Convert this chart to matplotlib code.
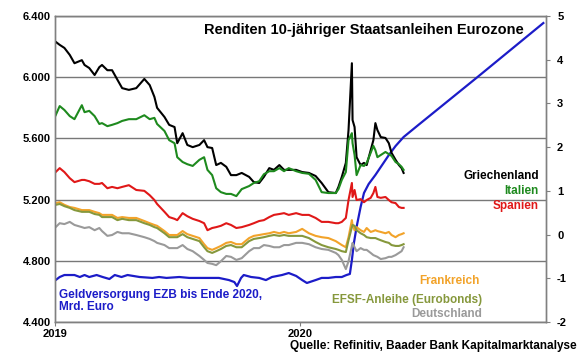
import matplotlib
matplotlib.use("Agg")
import matplotlib.pyplot as plt
import pandas as pd

plt.rcParams['font.family'] = ['Liberation Sans', 'DejaVu Sans']
plt.rcParams['font.weight'] = 'bold'

# Rendite-Daten (%), rechte Achse
dates = ["2019-01-02", "2019-01-08", "2019-01-15", "2019-01-23", "2019-01-30", "2019-02-10", "2019-02-14", "2019-02-21", "2019-03-01", "2019-03-08",
         "2019-03-12", "2019-03-20", "2019-03-27", "2019-04-04", "2019-04-11", "2019-04-21", "2019-05-02", "2019-05-14", "2019-05-22", "2019-05-29",
         "2019-06-02", "2019-06-13", "2019-06-20", "2019-06-28", "2019-07-02", "2019-07-10", "2019-07-17", "2019-07-25", "2019-08-04", "2019-08-11",
         "2019-08-16", "2019-08-23", "2019-08-29", "2019-09-05", "2019-09-13", "2019-09-20", "2019-09-28", "2019-10-06", "2019-10-17", "2019-10-24",
         "2019-11-01", "2019-11-08", "2019-11-16", "2019-11-23", "2019-12-01", "2019-12-08", "2019-12-15", "2019-12-26", "2020-01-04", "2020-01-14",
         "2020-01-24", "2020-02-02", "2020-02-12", "2020-02-23", "2020-02-27", "2020-03-03", "2020-03-09", "2020-03-13", "2020-03-18", "2020-03-19",
         "2020-03-22", "2020-03-25", "2020-03-31", "2020-04-05", "2020-04-09", "2020-04-15", "2020-04-19", "2020-04-22", "2020-04-25", "2020-04-30",
         "2020-05-07", "2020-05-12", "2020-05-16", "2020-05-22", "2020-05-27", "2020-05-31", "2020-06-03"]

griechenland = [4.41, 4.34, 4.27, 4.11, 3.92, 3.99, 3.88, 3.81, 3.65, 3.83,
                3.88, 3.76, 3.76, 3.54, 3.35, 3.31, 3.35, 3.56, 3.42, 3.15,
                2.90, 2.69, 2.51, 2.46, 2.09, 2.32, 2.05, 2.00, 2.05, 2.16,
                2.00, 1.98, 1.59, 1.64, 1.55, 1.36, 1.36, 1.41, 1.32, 1.20,
                1.18, 1.32, 1.52, 1.48, 1.59, 1.48, 1.48, 1.48, 1.43, 1.41,
                1.34, 1.18, 0.97, 0.95, 1.09, 1.32, 1.64, 2.39, 3.92, 2.62,
                2.46, 1.77, 1.59, 1.64, 1.59, 1.93, 2.16, 2.55, 2.39, 2.23,
                2.21, 2.09, 1.87, 1.71, 1.59, 1.52, 1.41]
italien = [2.73, 2.94, 2.85, 2.71, 2.64, 2.96, 2.80, 2.83, 2.71, 2.53,
           2.55, 2.48, 2.51, 2.55, 2.60, 2.64, 2.64, 2.73, 2.64, 2.67,
           2.53, 2.37, 2.16, 2.09, 1.77, 1.66, 1.61, 1.57, 1.71, 1.77,
           1.48, 1.36, 1.06, 0.97, 0.93, 0.93, 0.88, 1.04, 1.11, 1.18,
           1.22, 1.38, 1.45, 1.45, 1.52, 1.45, 1.52, 1.45, 1.41, 1.39,
           1.25, 0.97, 0.95, 0.95, 1.04, 1.25, 1.43, 2.16, 2.32, 2.09,
           1.82, 1.36, 1.59, 1.57, 1.64, 1.87, 2.03, 1.93, 1.77, 1.82,
           1.89, 1.84, 1.80, 1.66, 1.61, 1.55, 1.48]
spanien = [1.43, 1.52, 1.43, 1.29, 1.20, 1.25, 1.25, 1.22, 1.16, 1.16,
           1.18, 1.06, 1.09, 1.06, 1.09, 1.13, 1.02, 1.00, 0.90, 0.79,
           0.70, 0.52, 0.40, 0.36, 0.33, 0.49, 0.42, 0.36, 0.31, 0.26,
           0.10, 0.15, 0.17, 0.20, 0.26, 0.22, 0.15, 0.17, 0.22, 0.26,
           0.31, 0.33, 0.40, 0.45, 0.47, 0.49, 0.45, 0.49, 0.45, 0.45,
           0.38, 0.29, 0.29, 0.26, 0.26, 0.29, 0.38, 0.79, 1.18, 0.86,
           1.02, 0.79, 0.81, 0.74, 0.79, 0.84, 0.95, 1.09, 0.86, 0.84,
           0.86, 0.79, 0.74, 0.72, 0.63, 0.61, 0.61]
frankreich = [0.72, 0.74, 0.68, 0.63, 0.61, 0.56, 0.56, 0.56, 0.52, 0.49,
              0.45, 0.45, 0.45, 0.38, 0.40, 0.38, 0.38, 0.31, 0.26, 0.22,
              0.20, 0.08, -0.01, -0.01, -0.01, 0.08, 0.01, -0.03, -0.08, -0.22,
              -0.31, -0.35, -0.31, -0.26, -0.19, -0.17, -0.22, -0.22, -0.08, -0.03,
              -0.01, 0.01, 0.03, 0.06, 0.03, 0.06, 0.03, 0.06, 0.13, 0.03,
              -0.03, -0.06, -0.08, -0.15, -0.19, -0.24, -0.29, -0.06, 0.33, 0.22,
              0.10, 0.17, 0.10, 0.06, 0.15, 0.06, 0.08, 0.10, 0.08, 0.06,
              0.03, 0.06, -0.01, -0.06, -0.01, 0.01, 0.03]
efsf = [0.68, 0.70, 0.65, 0.61, 0.56, 0.52, 0.52, 0.52, 0.47, 0.45,
        0.40, 0.40, 0.40, 0.33, 0.36, 0.33, 0.33, 0.26, 0.22, 0.17,
        0.15, 0.03, -0.06, -0.06, -0.06, 0.01, -0.06, -0.10, -0.15, -0.29,
        -0.38, -0.42, -0.38, -0.33, -0.26, -0.24, -0.29, -0.29, -0.15, -0.10,
        -0.08, -0.06, -0.03, -0.01, -0.03, -0.01, -0.03, -0.03, -0.03, -0.08,
        -0.17, -0.24, -0.29, -0.33, -0.35, -0.38, -0.40, -0.13, 0.17, 0.22,
        0.20, 0.10, 0.03, -0.01, -0.06, -0.08, -0.08, -0.08, -0.10, -0.13,
        -0.17, -0.19, -0.24, -0.26, -0.26, -0.24, -0.22]
deutschland = [0.17, 0.26, 0.24, 0.29, 0.22, 0.17, 0.15, 0.17, 0.10, 0.15,
               0.08, -0.03, -0.01, 0.06, 0.03, 0.03, -0.01, -0.06, -0.10, -0.15,
               -0.19, -0.24, -0.31, -0.31, -0.31, -0.24, -0.33, -0.38, -0.49, -0.58,
               -0.65, -0.67, -0.70, -0.61, -0.49, -0.51, -0.58, -0.54, -0.38, -0.31,
               -0.31, -0.24, -0.26, -0.29, -0.29, -0.24, -0.24, -0.19, -0.19, -0.22,
               -0.29, -0.33, -0.35, -0.42, -0.47, -0.58, -0.79, -0.61, -0.26, -0.19,
               -0.29, -0.38, -0.31, -0.35, -0.35, -0.42, -0.47, -0.49, -0.51, -0.56,
               -0.54, -0.51, -0.51, -0.47, -0.42, -0.38, -0.29]

# Geldversorgung EZB (Mrd. Euro), linke Achse
ezb_dates = ["2019-01-02", "2019-01-08", "2019-01-15", "2019-01-30", "2019-02-07", "2019-02-14", "2019-02-21", "2019-03-04", "2019-03-13", "2019-03-23",
             "2019-03-31", "2019-04-10", "2019-04-19", "2019-05-07", "2019-05-26", "2019-06-05", "2019-06-16", "2019-07-05", "2019-07-20", "2019-08-08",
             "2019-09-02", "2019-09-17", "2019-09-25", "2019-09-29", "2019-10-05", "2019-10-09", "2019-10-20", "2019-11-01", "2019-11-11", "2019-11-20",
             "2019-12-05", "2019-12-15", "2019-12-26", "2020-01-04", "2020-01-11", "2020-01-24", "2020-02-02", "2020-02-12", "2020-02-23", "2020-03-03",
             "2020-03-10", "2020-03-15", "2020-03-18", "2020-03-21", "2020-03-25", "2020-03-31", "2020-04-05", "2020-04-12", "2020-04-22", "2020-05-02",
             "2020-05-12", "2020-05-22", "2020-06-03", "2020-06-25", "2020-09-21", "2020-12-28"]
ezb = [4674, 4694, 4707, 4707, 4694, 4707, 4694, 4707, 4694, 4681,
       4707, 4694, 4707, 4694, 4688, 4694, 4688, 4694, 4688, 4688,
       4688, 4674, 4661, 4635, 4688, 4707, 4694, 4688, 4674, 4694,
       4707, 4720, 4701, 4674, 4655, 4674, 4688, 4688, 4694, 4694,
       4707, 4714, 4805, 4916, 5021, 5152, 5243, 5302, 5361, 5426,
       5491, 5550, 5609, 5688, 6001, 6354]

left_ticks = [4400, 4800, 5200, 5600, 6000, 6400]
right_ticks = [-2, -1, 0, 1, 2, 3, 4, 5]
year_ticks = ["2019-01-01", "2020-01-01"]
year_labels = ["2019", "2020"]

d = pd.to_datetime(dates)
de = pd.to_datetime(ezb_dates)

fig = plt.figure(figsize=(5.8, 3.59), dpi=100)
ax = fig.add_axes([0.0948, 0.1031, 0.8466, 0.8523])
ax2 = ax.twinx()

# linke Achse: Geldversorgung
ax.plot(de, ezb, color='#1c1cc8', lw=1.6)
ax.set_ylim(4400, 6400)
ax.set_yticks(left_ticks)
ax.set_yticklabels([f"{v:,}".replace(",", ".") for v in left_ticks], fontsize=8, fontweight='bold')
ax.grid(axis='y', color='#787878', lw=1)
ax.tick_params(axis='y', length=0, pad=3)
ax.set_xlim(pd.Timestamp("2019-01-01"), pd.Timestamp("2021-01-01"))
ax.set_xticks(pd.to_datetime(year_ticks))
ax.set_xticklabels(year_labels, fontsize=8, fontweight='bold')
ax.tick_params(axis='x', length=3, pad=2, color='#808080')

# rechte Achse: Renditen
ax2.plot(d, griechenland, color='black', lw=1.5)
ax2.plot(d, italien, color='#1e8a1e', lw=1.5)
ax2.plot(d, spanien, color='#e01818', lw=1.5)
ax2.plot(d, frankreich, color='#f2a32a', lw=1.5)
ax2.plot(d, efsf, color='#86983c', lw=1.5)
ax2.plot(d, deutschland, color='#9a9a9a', lw=1.5)
ax2.set_ylim(-2, 5)
ax2.set_yticks(right_ticks)
ax2.set_yticklabels([str(v) for v in right_ticks], fontsize=8, fontweight='bold')
ax2.tick_params(axis='y', length=3, pad=5, color='#808080')

for a in (ax, ax2):
    for s in a.spines.values():
        s.set_color('#808080')
        s.set_linewidth(1)

tx = ax2.transAxes
ax2.text(0.955, 0.955, "Renditen 10-jähriger Staatsanleihen Eurozone", transform=tx,
         ha='right', va='center', fontsize=10.5, fontweight='bold')
ax2.text(0.985, 0.478, "Griechenland", transform=tx, ha='right', va='center', fontsize=8.5, fontweight='bold', color='black')
ax2.text(0.985, 0.428, "Italien", transform=tx, ha='right', va='center', fontsize=8.5, fontweight='bold', color='#1e8a1e')
ax2.text(0.985, 0.379, "Spanien", transform=tx, ha='right', va='center', fontsize=8.5, fontweight='bold', color='#e01818')
ax2.text(0.865, 0.134, "Frankreich", transform=tx, ha='right', va='center', fontsize=8.5, fontweight='bold', color='#f2a32a')
ax2.text(0.869, 0.072, "EFSF-Anleihe (Eurobonds)", transform=tx, ha='right', va='center', fontsize=8.5, fontweight='bold', color='#86983c')
ax2.text(0.869, 0.026, "Deutschland", transform=tx, ha='right', va='center', fontsize=8.5, fontweight='bold', color='#9a9a9a')
ax2.text(0.008, 0.069, "Geldversorgung EZB bis Ende 2020,\nMrd. Euro", transform=tx, ha='left', va='center',
         fontsize=8.5, fontweight='bold', color='#1c1cc8', linespacing=1.05)

fig.text(0.995, 0.036, "Quelle: Refinitiv, Baader Bank Kapitalmarktanalyse", ha='right', va='center',
         fontsize=8.5, fontweight='bold')

fig.savefig("out.png", dpi=100)
